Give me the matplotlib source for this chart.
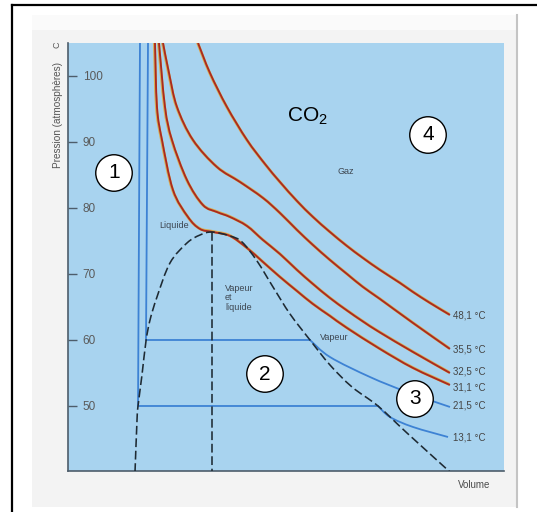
import matplotlib
matplotlib.use("Agg")
import numpy as np
import matplotlib.pyplot as plt
import matplotlib.patheffects as pe
from matplotlib.patches import Rectangle, PathPatch
from matplotlib.lines import Line2D
from matplotlib.path import Path

plt.rcParams['font.family'] = ['Liberation Sans', 'DejaVu Sans']
plt.rcParams['mathtext.fontset'] = 'custom'
plt.rcParams['mathtext.rm'] = 'Liberation Sans'
plt.rcParams['mathtext.it'] = 'Liberation Sans:italic'

# ---------------- data (volume: arbitrary units 0-100, pressure: atm) -------------
pressure_ticks = [50, 60, 70, 80, 90, 100]
temp_labels = ["48,1 °C", "35,5 °C", "32,5 °C", "31,1 °C", "21,5 °C", "13,1 °C"]

# supercritical / critical isotherms (red)
v_481 = [29.82, 32.57, 36.47, 41.06, 45.18, 48.62, 52.52, 56.19, 60.09, 63.99, 67.66, 71.56, 76.15, 79.13, 83.03, 87.61]
p_481 = [105.0, 100.45, 95.30, 90.30, 86.67, 83.94, 81.06, 78.64, 76.36, 74.24, 72.42, 70.61, 68.64, 67.27, 65.61, 63.79]

v_355 = [21.79, 23.17, 25.00, 28.67, 34.17, 39.45, 44.72, 48.62, 52.52, 56.19, 60.09, 63.99, 67.66, 71.56, 79.13, 87.61]
p_355 = [105.0, 100.45, 95.30, 90.30, 86.21, 83.94, 81.52, 79.24, 76.67, 74.39, 72.12, 70.00, 68.03, 66.21, 62.58, 58.64]

v_325 = [20.87, 22.25, 23.85, 27.29, 30.96, 34.17, 37.16, 41.06, 44.72, 48.62, 52.52, 56.19, 60.09, 63.99, 67.66, 71.56, 79.13, 87.61]
p_325 = [105.0, 95.30, 90.30, 84.24, 80.45, 79.39, 78.64, 77.27, 75.15, 73.03, 70.61, 68.48, 66.36, 64.47, 62.80, 61.14, 58.18, 55.00]

v_311 = [19.95, 20.41, 21.56, 24.08, 27.52, 30.28, 33.26, 37.16, 41.06, 44.72, 48.62, 52.52, 56.19, 60.09, 63.99, 71.56, 79.13, 87.61]
p_311 = [105.0, 95.30, 90.30, 82.73, 78.64, 76.82, 76.36, 75.76, 73.94, 71.82, 69.55, 67.42, 65.45, 63.64, 61.82, 58.64, 55.76, 53.18]

# subcritical isotherms (blue): liquid branch, plateau, vapour branch
v_215 = [18.35, 17.89, 55.50, 60.09, 69.27, 77.75, 87.61]
p_215 = [105.0, 60.0, 60.0, 57.42, 54.39, 52.12, 49.85]

v_131 = [16.51, 16.06, 71.10, 73.85, 79.13, 87.16]
p_131 = [105.0, 50.0, 50.0, 48.33, 46.82, 45.30]

# liquid-vapour coexistence curve (dashed)
v_dome = [15.37, 15.83, 16.06, 16.97, 17.89, 18.81, 20.41, 23.39, 27.29, 30.28, 33.03,
          37.16, 39.91, 43.35, 47.02, 50.92, 55.50, 60.09, 65.14, 71.10, 77.75, 87.61]
p_dome = [40.0, 47.88, 50.0, 54.70, 59.85, 63.03, 66.52, 71.67, 74.70, 75.91, 76.36,
          75.76, 74.85, 71.97, 68.03, 63.94, 60.0, 56.21, 52.88, 50.0, 45.91, 40.0]

# critical volume / pressure
v_crit = 33.03
p_crit = 76.36

# ---------------- helpers ----------------------------------------------------
def smooth_path(xs, ys):
    """Bezier path through the given points (Catmull-Rom tangents)."""
    pts = np.column_stack([xs, ys]).astype(float)
    n = len(pts)
    verts = [pts[0]]
    codes = [Path.MOVETO]
    for i in range(n - 1):
        p0 = pts[i - 1] if i > 0 else pts[i]
        p1 = pts[i]
        p2 = pts[i + 1]
        p3 = pts[i + 2] if i + 2 < n else pts[i + 1]
        verts += [p1 + (p2 - p0) / 6.0, p2 - (p3 - p1) / 6.0, p2]
        codes += [Path.CURVE4] * 3
    return Path(verts, codes)

# ---------------- figure -------------------------------------------------------
W, H = 537, 512
fig = plt.figure(figsize=(W / 100, H / 100), dpi=100)
fig.patch.set_facecolor('white')

def fx(x):
    return x / W

def fy(y):
    return 1 - y / H

# scanned page background
fig.patches.append(Rectangle((fx(32), fy(507)), fx(517) - fx(32), fy(15) - fy(507),
                             transform=fig.transFigure, facecolor='#f3f3f3', edgecolor='none', zorder=-5))
fig.patches.append(Rectangle((fx(32), fy(30)), fx(517) - fx(32), fy(15) - fy(30),
                             transform=fig.transFigure, facecolor='#fafafa', edgecolor='none', zorder=-5))
fig.lines.append(Line2D([fx(517), fx(517)], [fy(15), fy(507)], transform=fig.transFigure,
                        color='#c4c4c4', lw=1.5, zorder=-4))
# black frame (left and top visible)
fig.lines.append(Line2D([fx(12), fx(12)], [fy(5), 0], transform=fig.transFigure, color='black', lw=1.6, zorder=-4))
fig.lines.append(Line2D([fx(12), 1], [fy(5), fy(5)], transform=fig.transFigure, color='black', lw=1.6, zorder=-4))

ax = fig.add_axes([fx(68), fy(471), fx(504) - fx(68), fy(43) - fy(471)])
ax.set_zorder(1)
ax.set_facecolor('#a8d3ef')
ax.set_xlim(0, 100)
ax.set_ylim(40.15, 105.0)
for s in ['top', 'right']:
    ax.spines[s].set_visible(False)
for s in ['left', 'bottom']:
    ax.spines[s].set_color('#4d5d6b')
    ax.spines[s].set_linewidth(1.2)
ax.set_xticks([])
ax.set_yticks(pressure_ticks)
ax.set_yticklabels([str(t) for t in pressure_ticks])
ax.tick_params(axis='y', direction='in', length=6.5, width=1.0, color='#4d5d6b',
               pad=-10.5, labelsize=8.5, labelcolor='#5a5a5a')
for lbl in ax.get_yticklabels():
    lbl.set_horizontalalignment('left')

red = '#aa2a20'
halo = [pe.Stroke(linewidth=2.1, foreground='#d9ad52', offset=(-0.4, 0.4)), pe.Normal()]
for v, p in [(v_481, p_481), (v_355, p_355), (v_325, p_325), (v_311, p_311)]:
    ax.add_patch(PathPatch(smooth_path(v, p), fill=False, edgecolor=red, lw=1.35,
                           joinstyle='round', capstyle='butt', path_effects=halo, zorder=4))

blue = '#3d82d4'
for v, p in [(v_215, p_215), (v_131, p_131)]:
    # straight liquid branch + plateau
    ax.plot(v[:3], p[:3], color=blue, lw=1.3, solid_joinstyle='miter', zorder=3)
    # curved vapour branch
    ax.add_patch(PathPatch(smooth_path(v[2:], p[2:]), fill=False, edgecolor=blue, lw=1.3, zorder=3))

ax.add_patch(PathPatch(smooth_path(v_dome, p_dome), fill=False, edgecolor='#1e2a33', lw=1.15,
                       linestyle=(0, (5.5, 2.3)), zorder=5))
ax.plot([v_crit, v_crit], [p_crit, 40.15], color='#1e2a33', lw=1.15, dashes=(5.5, 2.3), zorder=5)

# ---------------- texts ------------------------------------------------------
small = dict(color='#3d4650', fontsize=6.5, zorder=10)
fig.text(fx(159), fy(225), "Liquide", ha='left', va='center', **small)
fig.text(fx(225), fy(284), "Vapeur\net\nliquide", ha='left', va='top', linespacing=1.05, **small)
fig.text(fx(320), fy(338), "Vapeur", ha='left', va='center', **small)
fig.text(fx(337), fy(172), "Gaz", ha='left', va='center', **small)
fig.text(fx(458), fy(485), "Volume", ha='left', va='center', color='#4a4a4a', fontsize=7)

ylabs = [315, 349, 371, 387, 406, 437]
for lab, yy in zip(temp_labels, ylabs):
    fig.text(fx(453), fy(yy), lab, ha='left', va='center', color='#444444', fontsize=7, zorder=10)

fig.text(fx(58), fy(115), "Pression (atmosphères)", rotation=90, ha='center', va='center',
         color='#555555', fontsize=7.2)
fig.text(fx(57), fy(45), "C", rotation=90, ha='center', va='center', color='#555555', fontsize=6.5)

fig.text(fx(287), fy(116), "CO$_2$", ha='left', va='center', color='black', fontsize=15, zorder=10)

for num, (cx, cy) in zip(["1", "2", "3", "4"], [(114, 173), (265, 374), (415, 399), (428, 135)]):
    fig.text(fx(cx), fy(cy), num, ha='center', va='center', fontsize=15, color='black', zorder=10,
             bbox=dict(boxstyle='circle,pad=0.42', facecolor='white', edgecolor='black', linewidth=1.0))

fig.savefig('out.png', dpi=100)
